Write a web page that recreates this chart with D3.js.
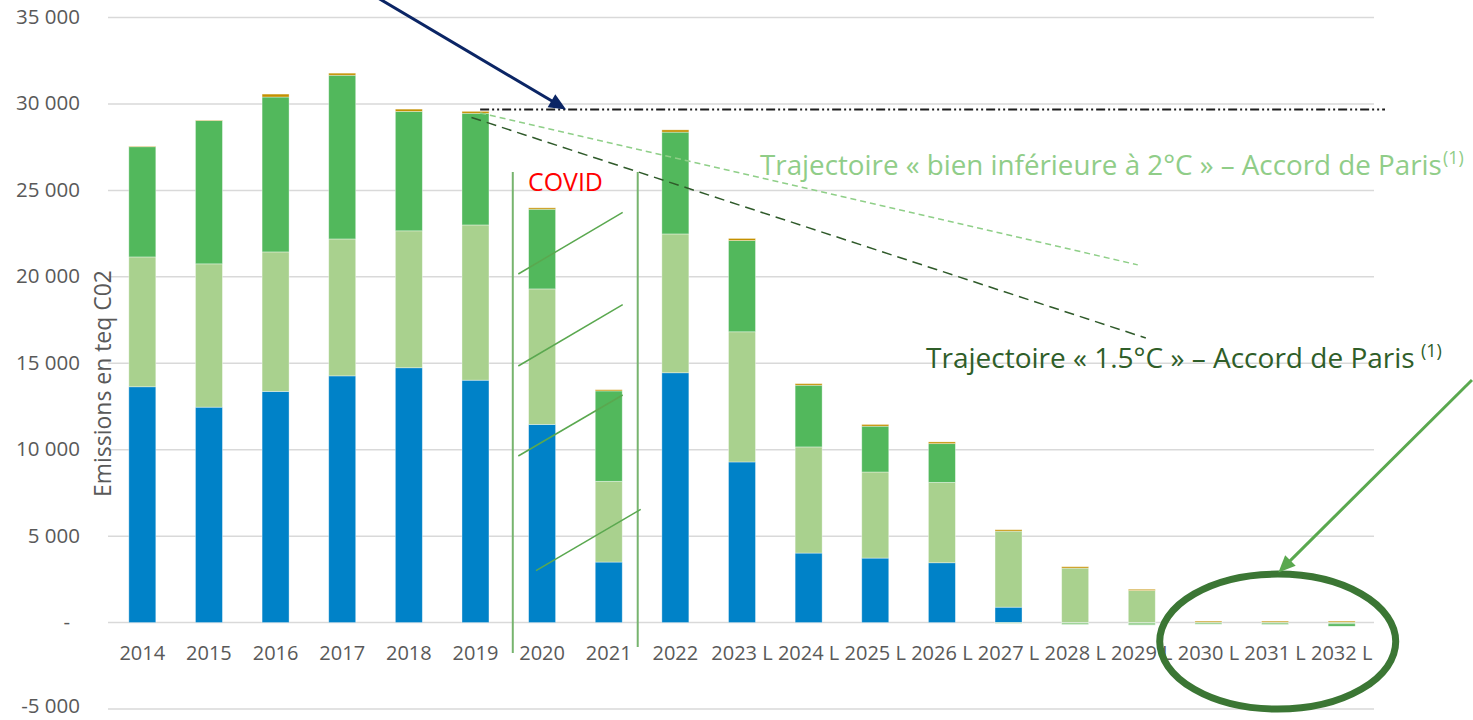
<!DOCTYPE html>
<html><head><meta charset="utf-8">
<script src="https://cdn.jsdelivr.net/npm/d3@7"></script>
<style>
body{margin:0;background:#fff}
svg{display:block}
text{font-family:"Open Sans",sans-serif}
</style>
</head><body>
<svg id="c" width="1473" height="720"></svg>
<script>
// ---------- data ----------
const categories = ["2014","2015","2016","2017","2018","2019","2020","2021","2022","2023","2024","2025","2026","2027","2028","2029","2030","2031","2032"];
const xLabels = ["2014","2015","2016","2017","2018","2019","2020","2021","2022","2023 L","2024 L","2025 L","2026 L","2027 L","2028 L","2029 L","2030 L","2031 L","2032 L"];
const blue       = [13640,12460,13370,14270,14740,14020,11460,3500,14450,9290,4020,3730,3460,890,0,0,0,0,0];
const lightGreen = [7510,8290,8070,7920,7920,8980,7840,4670,8030,7530,6140,4980,4650,4400,3150,1855,0,0,0];
const green      = [6375,8285,8960,9470,6910,6460,4610,5230,5890,5280,3570,2650,2240,0,0,0,0,0,0];
const orange     = [30,30,170,120,130,110,80,70,130,120,90,100,100,80,80,70,80,80,80];
const negLight   = [0,0,0,0,0,0,0,0,0,0,0,0,0,-50,-120,-150,-100,-120,-80];
const negGreen   = [0,0,0,0,0,0,0,0,0,0,0,0,0,0,0,0,0,0,-130];
const seriesKeys   = ["blue","lightGreen","green","orange","negLight","negGreen"];
const seriesColors = ["#0082c8","#a9d18e","#52b85c","#c49000","#9fd49a","#4fb457"];
const yTicks      = [-5000,0,5000,10000,15000,20000,25000,30000,35000];
const yTickLabels = ["-5 000","-","5 000","10 000","15 000","20 000","25 000","30 000","35 000"];
// reference / trajectory lines: [category index position, value]
const refLine  = [[5.07,29680],[18.65,29680]];
const traj2C   = [[5.07,29480],[14.94,20690]];
const traj15   = [[4.94,29220],[15.06,16460]];

// ---------- setup ----------
const svg = d3.select("#c");
const x = d3.scaleBand().domain(categories).range([109,1375]).paddingInner(0.595).paddingOuter(0.2975);
const y = d3.scaleLinear().domain([-5000,35000]).range([709,17.5]);
const xi = d3.scaleLinear().domain([0,categories.length-1])
  .range([x(categories[0])+x.bandwidth()/2, x(categories[categories.length-1])+x.bandwidth()/2]);

// gridlines
svg.append("g").selectAll("line").data(yTicks).join("line")
  .attr("x1",108).attr("x2",1374)
  .attr("y1",d=>y(d)).attr("y2",d=>y(d))
  .attr("stroke","#d9d9d9").attr("stroke-width",1.5);

// y tick labels
svg.append("g").selectAll("text").data(yTicks).join("text")
  .attr("x",d=>d===0?70:80).attr("y",d=>y(d)).attr("dy",d=>d===-5000?"0.2em":"0.32em")
  .attr("text-anchor","end").attr("fill","#595959").attr("font-size",20.5)
  .text((d,i)=>yTickLabels[i]);

// x tick labels
svg.append("g").selectAll("text").data(categories).join("text")
  .attr("x",d=>x(d)+x.bandwidth()/2).attr("y",660)
  .attr("text-anchor","middle").attr("fill","#595959").attr("font-size",20)
  .text((d,i)=>xLabels[i]);

// stacked bars
const rows = categories.map((c,i)=>({cat:c, blue:blue[i], lightGreen:lightGreen[i], green:green[i], orange:orange[i], negLight:negLight[i], negGreen:negGreen[i]}));
const stack = d3.stack().keys(seriesKeys).offset(d3.stackOffsetDiverging)(rows);
svg.append("g").selectAll("g").data(stack).join("g")
  .attr("fill",(d,i)=>seriesColors[i])
  .selectAll("rect").data(d=>d.filter(p=>p[1]!==p[0])).join("rect")
  .attr("x",d=>x(d.data.cat)).attr("width",x.bandwidth())
  .attr("y",d=>y(Math.max(d[0],d[1])))
  .attr("height",d=>Math.abs(y(d[0])-y(d[1])))
  .attr("stroke","rgba(255,255,255,0.45)").attr("stroke-width",0.8);

// trajectory lines
const line = d3.line().x(d=>xi(d[0])).y(d=>y(d[1]));
svg.append("path").attr("d",line(refLine)).attr("fill","none")
  .attr("stroke","#1e1e1e").attr("stroke-width",2).attr("stroke-dasharray","9,3,2,3,2,3");
svg.append("path").attr("d",line(traj2C)).attr("fill","none")
  .attr("stroke","#8fcf88").attr("stroke-width",1.5).attr("stroke-dasharray","6,4");
svg.append("path").attr("d",line(traj15)).attr("fill","none")
  .attr("stroke","#2f5a2a").attr("stroke-width",1.5).attr("stroke-dasharray","10,6");

// COVID band
const covidLines = [[5.56,172,653],[7.435,172,647]];
svg.append("g").selectAll("line").data(covidLines).join("line")
  .attr("x1",d=>xi(d[0])).attr("x2",d=>xi(d[0])).attr("y1",d=>d[1]).attr("y2",d=>d[2])
  .attr("stroke","#77b46e").attr("stroke-width",2);
const hatch = [[518.3,274,622.7,212.3],[518.3,366,622.7,304.7],[518.3,456,622.7,395],[536,570.7,640.7,509.3]];
svg.append("g").selectAll("line").data(hatch).join("line")
  .attr("x1",d=>d[0]).attr("y1",d=>d[1]).attr("x2",d=>d[2]).attr("y2",d=>d[3])
  .attr("stroke","#5aa84f").attr("stroke-width",1.5);

// fit helper
function fit(t, w){
  const fs = parseFloat(t.attr("font-size"));
  const len = t.node().getComputedTextLength();
  t.attr("font-size", fs*w/len);
  return fs*w/len;
}
// COVID text
const cov = svg.append("text").attr("x",528).attr("y",191).attr("fill","#ff0000").attr("font-size",24).text("COVID");
fit(cov,75);

// y title
const yt = svg.append("text").attr("transform","translate(111,383.5) rotate(-90)")
  .attr("text-anchor","middle").attr("fill","#595959").attr("font-size",19).text("Emissions en teq C02");
fit(yt,227);

// annotation texts with superscript
function annot(x0, base, w, str, color, supGap){
  const t = svg.append("text").attr("x",x0).attr("y",base).attr("fill",color).attr("font-size",24).text(str);
  const fs = fit(t,w);
  svg.append("text").attr("x",x0+w+supGap).attr("y",base-fs*0.38).attr("fill",color)
    .attr("font-size",fs*0.64).text("(1)");
}
annot(760,175,682,"Trajectoire « bien inférieure à 2°C » – Accord de Paris","#90cd88",1);
annot(926,368,489,"Trajectoire « 1.5°C » – Accord de Paris","#2f5e29",6);

// arrows
function arrow(x1,y1,x2,y2,color,w,hl,hw){
  const dx=x2-x1, dy=y2-y1, L=Math.hypot(dx,dy), ux=dx/L, uy=dy/L;
  const bx=x2-ux*hl, by=y2-uy*hl;
  svg.append("line").attr("x1",x1).attr("y1",y1).attr("x2",bx+ux*2).attr("y2",by+uy*2)
    .attr("stroke",color).attr("stroke-width",w);
  svg.append("polygon").attr("points",[[x2,y2],[bx-uy*hw,by+ux*hw],[bx+uy*hw,by-ux*hw]].map(p=>p.join(",")).join(" "))
    .attr("fill",color);
}
arrow(378,-2,xi(6.36),y(29680),"#0b2565",3,17,7.5);

// ellipse
svg.append("ellipse").attr("cx",xi(17.04)).attr("cy",y(-1100)).attr("rx",118).attr("ry",67.5)
  .attr("fill","none").attr("stroke","#3b7634").attr("stroke-width",7);
arrow(1472,380,xi(17.05),y(2900),"#5aa84f",3,17,7.5);
</script>
</body></html>
